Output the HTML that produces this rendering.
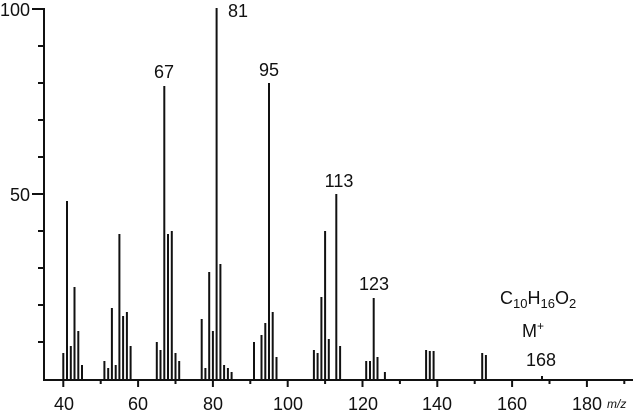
<!DOCTYPE html>
<html><head><style>body{margin:0;background:#fff}svg{display:block}</style></head><body>
<svg width="635" height="413" xmlns="http://www.w3.org/2000/svg" font-family="Liberation Sans, sans-serif" font-size="18" fill="#111">
<g stroke="#111" stroke-width="2">
<line x1="44" y1="8" x2="44" y2="380"/>
<line x1="43" y1="380" x2="633" y2="380"/>
<line x1="32" y1="9" x2="44" y2="9"/>
<line x1="32" y1="194" x2="44" y2="194"/>
<line x1="38" y1="46" x2="44" y2="46"/>
<line x1="38" y1="83" x2="44" y2="83"/>
<line x1="38" y1="120" x2="44" y2="120"/>
<line x1="38" y1="157" x2="44" y2="157"/>
<line x1="38" y1="231" x2="44" y2="231"/>
<line x1="38" y1="268" x2="44" y2="268"/>
<line x1="38" y1="305" x2="44" y2="305"/>
<line x1="38" y1="342" x2="44" y2="342"/>
</g>
<g stroke="#111" stroke-width="2">
<line x1="63.3" y1="380" x2="63.3" y2="387"/>
<line x1="100.7" y1="380" x2="100.7" y2="384"/>
<line x1="138.1" y1="380" x2="138.1" y2="387"/>
<line x1="175.5" y1="380" x2="175.5" y2="384"/>
<line x1="212.9" y1="380" x2="212.9" y2="387"/>
<line x1="250.3" y1="380" x2="250.3" y2="384"/>
<line x1="287.7" y1="380" x2="287.7" y2="387"/>
<line x1="325.1" y1="380" x2="325.1" y2="384"/>
<line x1="362.5" y1="380" x2="362.5" y2="387"/>
<line x1="399.9" y1="380" x2="399.9" y2="384"/>
<line x1="437.3" y1="380" x2="437.3" y2="387"/>
<line x1="474.7" y1="380" x2="474.7" y2="384"/>
<line x1="512.1" y1="380" x2="512.1" y2="387"/>
<line x1="549.5" y1="380" x2="549.5" y2="384"/>
<line x1="586.9" y1="380" x2="586.9" y2="387"/>
<line x1="624.3" y1="380" x2="624.3" y2="384"/>
</g>
<g stroke="#111" stroke-width="2">
<line x1="63.3" y1="380" x2="63.3" y2="353"/>
<line x1="67.0" y1="380" x2="67.0" y2="201"/>
<line x1="70.8" y1="380" x2="70.8" y2="346"/>
<line x1="74.5" y1="380" x2="74.5" y2="287"/>
<line x1="78.3" y1="380" x2="78.3" y2="331"/>
<line x1="82.0" y1="380" x2="82.0" y2="365"/>
<line x1="104.4" y1="380" x2="104.4" y2="361"/>
<line x1="108.2" y1="380" x2="108.2" y2="368"/>
<line x1="111.9" y1="380" x2="111.9" y2="308"/>
<line x1="115.7" y1="380" x2="115.7" y2="365"/>
<line x1="119.4" y1="380" x2="119.4" y2="234"/>
<line x1="123.1" y1="380" x2="123.1" y2="316"/>
<line x1="126.9" y1="380" x2="126.9" y2="312"/>
<line x1="130.6" y1="380" x2="130.6" y2="346"/>
<line x1="156.8" y1="380" x2="156.8" y2="342"/>
<line x1="160.5" y1="380" x2="160.5" y2="350"/>
<line x1="164.3" y1="380" x2="164.3" y2="86"/>
<line x1="168.0" y1="380" x2="168.0" y2="234"/>
<line x1="171.8" y1="380" x2="171.8" y2="231"/>
<line x1="175.5" y1="380" x2="175.5" y2="353"/>
<line x1="179.2" y1="380" x2="179.2" y2="361"/>
<line x1="201.7" y1="380" x2="201.7" y2="319"/>
<line x1="205.4" y1="380" x2="205.4" y2="368"/>
<line x1="209.2" y1="380" x2="209.2" y2="272"/>
<line x1="212.9" y1="380" x2="212.9" y2="331"/>
<line x1="216.6" y1="380" x2="216.6" y2="8"/>
<line x1="220.4" y1="380" x2="220.4" y2="264"/>
<line x1="224.1" y1="380" x2="224.1" y2="365"/>
<line x1="227.9" y1="380" x2="227.9" y2="368"/>
<line x1="231.6" y1="380" x2="231.6" y2="372"/>
<line x1="254.0" y1="380" x2="254.0" y2="342"/>
<line x1="261.5" y1="380" x2="261.5" y2="335"/>
<line x1="265.3" y1="380" x2="265.3" y2="323"/>
<line x1="269.0" y1="380" x2="269.0" y2="83"/>
<line x1="272.7" y1="380" x2="272.7" y2="312"/>
<line x1="276.5" y1="380" x2="276.5" y2="357"/>
<line x1="313.9" y1="380" x2="313.9" y2="350"/>
<line x1="317.6" y1="380" x2="317.6" y2="353"/>
<line x1="321.4" y1="380" x2="321.4" y2="297"/>
<line x1="325.1" y1="380" x2="325.1" y2="231"/>
<line x1="328.8" y1="380" x2="328.8" y2="339"/>
<line x1="336.3" y1="380" x2="336.3" y2="194"/>
<line x1="340.1" y1="380" x2="340.1" y2="346"/>
<line x1="366.2" y1="380" x2="366.2" y2="361"/>
<line x1="370.0" y1="380" x2="370.0" y2="361"/>
<line x1="373.7" y1="380" x2="373.7" y2="298"/>
<line x1="377.5" y1="380" x2="377.5" y2="357"/>
<line x1="384.9" y1="380" x2="384.9" y2="372"/>
<line x1="426.1" y1="380" x2="426.1" y2="350"/>
<line x1="429.8" y1="380" x2="429.8" y2="351"/>
<line x1="433.6" y1="380" x2="433.6" y2="351"/>
<line x1="482.2" y1="380" x2="482.2" y2="353"/>
<line x1="485.9" y1="380" x2="485.9" y2="355"/>
<line x1="542.0" y1="380" x2="542.0" y2="376"/>
</g>
<text x="0" y="16">100</text>
<text x="10" y="201">50</text>
<g text-anchor="middle">
<text x="64" y="410">40</text><text x="138" y="410">60</text><text x="213" y="410">80</text>
<text x="288" y="410">100</text><text x="363" y="410">120</text><text x="437" y="410">140</text>
<text x="512" y="410">160</text><text x="587" y="410">180</text>
<text x="164" y="78">67</text><text x="269" y="76">95</text>
<text x="339" y="187">113</text><text x="374" y="290">123</text>
<text x="541" y="366">168</text>
</g>
<text x="228" y="17">81</text>
<text x="607" y="408" font-size="12" font-style="italic">m/z</text>
<text x="500" y="304">C<tspan font-size="13" dy="4">10</tspan><tspan dy="-4">H</tspan><tspan font-size="13" dy="4">16</tspan><tspan dy="-4">O</tspan><tspan font-size="13" dy="4">2</tspan></text>
<text x="522" y="337">M<tspan font-size="12" dy="-7">+</tspan></text>
</svg>
</body></html>
